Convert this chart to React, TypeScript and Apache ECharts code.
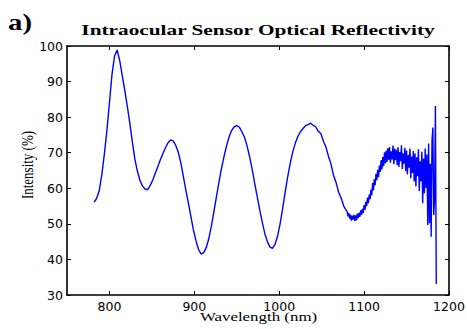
import React, { useEffect, useRef } from "react";
import * as echarts from "echarts";

// Smooth part of the spectrum: sampled every 3 nm from 782 nm
const smoothStart = 782;
const smoothStep = 3;
const smoothIntensity = [
  56.1, 57.2, 59.4, 63.8, 69.6, 76.2, 84.1, 92.0, 97.1, 98.9,
  96.0, 91.8, 87.6, 83.1, 78.3, 73.0, 68.1, 64.7, 62.2, 60.6,
  59.8, 59.6, 60.8, 62.3, 64.2, 66.1, 68.0, 69.8, 71.4, 72.8,
  73.6, 73.3, 72.1, 70.2, 67.2, 63.4, 59.5, 55.8, 52.0, 48.2,
  45.2, 42.8, 41.5, 41.9, 43.3, 45.8, 49.3, 53.4, 57.6, 61.7,
  65.6, 69.0, 72.0, 74.5, 76.3, 77.3, 77.6, 77.2, 75.9, 74.4,
  72.0, 69.0, 65.5, 61.5, 57.7, 54.0, 50.5, 47.3, 45.0, 43.5,
  43.1, 44.2, 46.5, 50.0, 54.3, 58.9, 63.3, 67.1, 70.3, 72.7,
  74.6, 75.9, 76.8, 77.6, 77.9, 78.3, 77.7, 77.3, 76.0, 75.4,
  73.2, 71.6, 69.0, 66.8, 63.6, 61.6, 58.9, 57.2, 55.0, 53.8,
];

// Noisy tail of the spectrum: sampled every 1 nm from 1080 nm
const noisyStart = 1080;
const noisyStep = 1;
const noisyIntensity = [
  53.4, 52.1, 53.0, 51.5, 52.6, 50.9, 52.3, 51.2, 52.5, 50.8,
  52.4, 51.0, 52.9, 51.6, 53.1, 52.0, 53.8, 52.5, 54.2, 53.0,
  55.3, 53.9, 56.2, 55.0, 57.4, 55.8, 58.2, 56.9, 59.6, 58.0,
  61.5, 59.4, 62.6, 60.9, 64.1, 62.3, 65.2, 63.1, 66.4, 64.6,
  67.9, 65.3, 68.8, 66.2, 70.1, 67.0, 70.6, 67.4, 71.3, 68.0,
  71.6, 67.2, 70.4, 68.1, 72.0, 66.8, 71.2, 67.9, 70.8, 66.5,
  71.5, 66.0, 70.2, 67.6, 72.1, 65.4, 69.8, 66.9, 71.4, 64.8,
  70.6, 63.9, 69.4, 65.8, 71.2, 62.8, 68.9, 64.3, 70.5, 61.9,
  69.8, 60.5, 68.7, 63.4, 71.0, 59.2, 67.6, 62.0, 70.3, 55.8,
  68.4, 58.6, 71.2, 60.1, 69.5, 49.7, 72.6, 50.2, 66.9, 46.4,
  73.4, 77.1, 52.5, 57.0, 83.1, 33.1,
];

const xTicks = [800, 900, 1000, 1100, 1200];
const xMin = 750;
const xMax = 1200;
const yMin = 30;
const yMax = 100;
const yInterval = 10;

const titleText = "Intraocular Sensor Optical Reflectivity";
const panelLabel = "a)";
const xName = "Wavelength (nm)";
const yName = "Intensity (%)";

export default function App() {
  const ref = useRef<HTMLDivElement>(null);

  useEffect(() => {
    if (!ref.current) return;
    const chart = echarts.init(ref.current, null, { renderer: "svg" });

    const data: number[][] = [
      ...smoothIntensity.map((v, i) => [smoothStart + i * smoothStep, v]),
      ...noisyIntensity.map((v, i) => [noisyStart + i * noisyStep, v]),
    ];

    const lineStyle = { color: "#000", width: 1.6 };
    const tickStyle = { color: "#000", width: 1 };
    const labelFont = {
      color: "#000",
      fontFamily: "DejaVu Sans",
      fontSize: 12.5,
    };
    const fmt = (v: number) => String(v);

    chart.setOption({
      animation: false,
      backgroundColor: "#fff",
      grid: {
        left: 67,
        right: 18,
        top: 46,
        bottom: 34,
        containLabel: false,
        outerBoundsMode: "none",
      },
      xAxis: [
        {
          type: "value",
          min: xMin,
          max: xMax,
          position: "bottom",
          axisLine: { show: true, onZero: false, lineStyle },
          axisTick: { show: true, inside: true, length: 4, customValues: xTicks, lineStyle: tickStyle },
          axisLabel: { show: true, customValues: xTicks, margin: 5, formatter: fmt, ...labelFont },
          splitLine: { show: false },
        },
        {
          type: "value",
          min: xMin,
          max: xMax,
          position: "top",
          axisLine: { show: true, onZero: false, lineStyle },
          axisTick: { show: true, inside: true, length: 4, customValues: xTicks, lineStyle: tickStyle },
          axisLabel: { show: false },
          splitLine: { show: false },
        },
      ],
      yAxis: [
        {
          type: "value",
          min: yMin,
          max: yMax,
          interval: yInterval,
          position: "left",
          axisLine: { show: true, onZero: false, lineStyle },
          axisTick: { show: true, inside: true, length: 4, lineStyle: tickStyle },
          axisLabel: { show: true, margin: 4, formatter: fmt, ...labelFont },
          splitLine: { show: false },
        },
        {
          type: "value",
          min: yMin,
          max: yMax,
          interval: yInterval,
          position: "right",
          axisLine: { show: true, onZero: false, lineStyle },
          axisTick: { show: true, inside: true, length: 4, lineStyle: tickStyle },
          axisLabel: { show: false },
          splitLine: { show: false },
        },
      ],
      graphic: [
        {
          type: "text",
          x: 8,
          y: 22,
          scaleX: 1.2,
          style: {
            text: panelLabel,
            fill: "#000",
            font: "bold 24px 'Liberation Serif'",
            textAlign: "left",
            textVerticalAlign: "middle",
          },
        },
        {
          type: "text",
          x: 258,
          y: 30,
          scaleX: 1.42,
          style: {
            text: titleText,
            fill: "#000",
            font: "bold 15px 'Liberation Serif'",
            textAlign: "center",
            textVerticalAlign: "middle",
          },
        },
        {
          type: "text",
          x: 258.5,
          y: 317,
          scaleX: 1.3,
          style: {
            text: xName,
            fill: "#000",
            font: "13px 'Liberation Serif'",
            textAlign: "center",
            textVerticalAlign: "middle",
          },
        },
        {
          type: "text",
          x: 27,
          y: 165,
          rotation: Math.PI / 2,
          scaleY: 1.3,
          style: {
            text: yName,
            fill: "#000",
            font: "13px 'Liberation Serif'",
            textAlign: "center",
            textVerticalAlign: "middle",
          },
        },
      ],
      series: [
        {
          type: "line",
          data,
          xAxisIndex: 0,
          yAxisIndex: 0,
          showSymbol: false,
          symbol: "none",
          lineStyle: { color: "#0000ff", width: 1.4 },
          itemStyle: { color: "#0000ff" },
        },
      ],
    });

    return () => chart.dispose();
  }, []);

  return (
    <div
      ref={ref}
      style={{ position: "absolute", left: 0, top: 0, width: 467, height: 329 }}
    />
  );
}
